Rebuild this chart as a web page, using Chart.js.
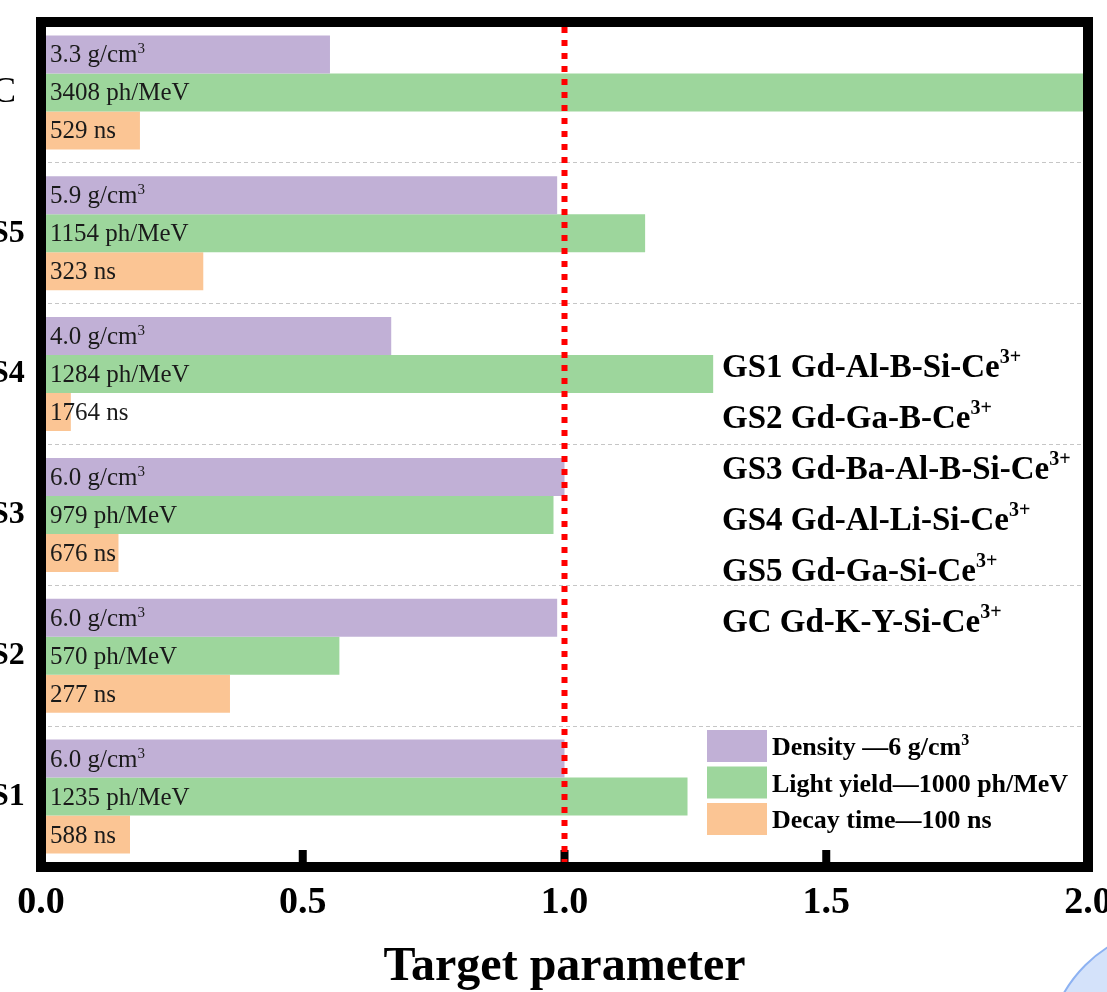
<!DOCTYPE html>
<html><head><meta charset="utf-8">
<script src="https://cdn.jsdelivr.net/npm/chart.js@4.4.1/dist/chart.umd.min.js"></script>
<style>html,body{margin:0;padding:0;background:#fff;overflow:hidden}#wrap{width:1107px;height:992px;position:relative}</style>
</head><body><div id="wrap"><canvas id="c" width="1107" height="992"></canvas></div>
<script>
// ---- data ----
const categories = ['GC', 'GS5', 'GS4', 'GS3', 'GS2', 'GS1'];
const densityRatio = [0.552, 0.986, 0.669, 1.0, 0.986, 1.0];      // density / 6 g/cm3
const lightRatio   = [3.408, 1.154, 1.284, 0.979, 0.570, 1.235];  // light yield / 1000 ph/MeV
const decayRatio   = [0.189, 0.310, 0.057, 0.148, 0.361, 0.170];  // 100 ns / decay time
const densityText = ['3.3 g/cm^{3}', '5.9 g/cm^{3}', '4.0 g/cm^{3}', '6.0 g/cm^{3}', '6.0 g/cm^{3}', '6.0 g/cm^{3}'];
const lightText   = ['3408 ph/MeV', '1154 ph/MeV', '1284 ph/MeV', '979 ph/MeV', '570 ph/MeV', '1235 ph/MeV'];
const decayText   = ['529 ns', '323 ns', '1764 ns', '676 ns', '277 ns', '588 ns'];
const seriesNames = ['Density \u20146 g/cm^{3}', 'Light yield\u20141000 ph/MeV', 'Decay time\u2014100 ns'];
const compounds = ['GS1 Gd-Al-B-Si-Ce^{3+}', 'GS2 Gd-Ga-B-Ce^{3+}', 'GS3 Gd-Ba-Al-B-Si-Ce^{3+}',
                   'GS4 Gd-Al-Li-Si-Ce^{3+}', 'GS5 Gd-Ga-Si-Ce^{3+}', 'GC Gd-K-Y-Si-Ce^{3+}'];
const xTickValues = [0, 0.5, 1.0, 1.5, 2.0];
const targetValue = 1.0;
const axisTitle = 'Target parameter';

const colors = ['#c1b0d6', '#9dd69c', '#fbc594'];
const FONT = 'Liberation Serif';

function parseRich(s) {
  const parts = []; const re = /\^\{([^}]*)\}/g; let last = 0, m;
  while ((m = re.exec(s))) {
    if (m.index > last) parts.push({ t: s.slice(last, m.index), sup: false });
    parts.push({ t: m[1], sup: true }); last = re.lastIndex;
  }
  if (last < s.length) parts.push({ t: s.slice(last), sup: false });
  return parts;
}
function drawRich(ctx, s, x, y, o) {
  ctx.textBaseline = 'alphabetic'; ctx.textAlign = 'left'; ctx.fillStyle = o.color || '#000';
  for (const p of parseRich(s)) {
    ctx.font = (o.weight || 'normal') + ' ' + (p.sup ? o.sup : o.size) + 'px "' + FONT + '"';
    ctx.fillText(p.t, x, p.sup ? y - o.raise : y);
    x += ctx.measureText(p.t).width;
  }
}

const decorPlugin = {
  id: 'decor',
  afterDatasetsDraw(chart) {
    const ctx = chart.ctx, a = chart.chartArea, xs = chart.scales.x;
    ctx.save();
    // value labels inside bars
    const texts = [densityText, lightText, decayText];
    chart.data.datasets.forEach((ds, di) => {
      const meta = chart.getDatasetMeta(di);
      meta.data.forEach((el, i) => {
        drawRich(ctx, texts[di][i], xs.getPixelForValue(0) + 9, el.y + 8,
          { size: 25, sup: 15, raise: 9, color: '#1a1a1a' });
      });
    });
    // frame
    ctx.strokeStyle = '#000'; ctx.lineWidth = 10; ctx.setLineDash([]);
    ctx.strokeRect(a.left, a.top, a.right - a.left, a.bottom - a.top);
    // inward tick marks
    ctx.fillStyle = '#000';
    xTickValues.slice(1, -1).forEach(v => {
      const px = xs.getPixelForValue(v);
      ctx.fillRect(px - 4, a.bottom - 17, 8, 13);
    });
    // target line
    const tx = xs.getPixelForValue(targetValue);
    ctx.strokeStyle = '#ff0000'; ctx.lineWidth = 6; ctx.setLineDash([6, 7]); ctx.lineCap = 'butt';
    ctx.beginPath(); ctx.moveTo(tx, a.top + 5); ctx.lineTo(tx, a.bottom - 5); ctx.stroke();
    ctx.setLineDash([]);
    // compound list
    compounds.forEach((c, i) => {
      drawRich(ctx, c, 722, 377 + i * 51, { size: 33, sup: 20, raise: 14, weight: 'bold' });
    });
    // legend
    chart.data.datasets.forEach((ds, i) => {
      const top = 730 + i * 36.5;
      ctx.fillStyle = ds.backgroundColor;
      ctx.fillRect(707, top, 60, 32);
      drawRich(ctx, seriesNames[i], 772, top + 16 + 9, { size: 26, sup: 16, raise: 10, weight: 'bold' });
    });
    ctx.restore();
  },
  afterDraw(chart) {
    const ctx = chart.ctx;
    ctx.save();
    ctx.beginPath(); ctx.arc(1180, 1060, 134, 0, Math.PI * 2);
    ctx.fillStyle = '#d4e2fa'; ctx.fill();
    ctx.strokeStyle = '#8db2f2'; ctx.lineWidth = 2; ctx.stroke();
    ctx.restore();
  }
};

new Chart(document.getElementById('c'), {
  type: 'bar',
  data: {
    labels: categories,
    datasets: [
      { label: seriesNames[0], data: densityRatio, backgroundColor: colors[0] },
      { label: seriesNames[1], data: lightRatio, backgroundColor: colors[1] },
      { label: seriesNames[2], data: decayRatio, backgroundColor: colors[2] }
    ]
  },
  options: {
    responsive: false, animation: false, indexAxis: 'y',
    devicePixelRatio: 1,
    datasets: { bar: { categoryPercentage: 0.81, barPercentage: 1.0, borderWidth: 0 } },
    layout: { padding: { left: -34, right: 19, top: 22, bottom: 0 } },
    plugins: { legend: { display: false }, tooltip: { enabled: false } },
    scales: {
      x: {
        type: 'linear', min: 0, max: 2, position: 'bottom',
        afterBuildTicks: s => { s.ticks = xTickValues.map(v => ({ value: v })); },
        afterFit: s => { s.height = 125; s.paddingLeft = 0; s.paddingRight = 0; },
        grid: { display: false, drawTicks: false }, border: { display: false },
        ticks: { padding: 17, color: '#000', autoSkip: false, maxRotation: 0,
          font: { family: FONT, size: 38, weight: 'bold', lineHeight: 1 },
          callback: v => Number(v).toFixed(1) },
        title: { display: true, text: axisTitle, color: '#000', padding: { top: 0, bottom: 0 },
          font: { family: FONT, size: 48, weight: 'bold', lineHeight: 1 } }
      },
      y: {
        type: 'category', position: 'left',
        afterFit: s => { s.width = 75; s.paddingTop = 0; s.paddingBottom = 0; },
        grid: { display: true, color: '#c6c6c6', lineWidth: 1, drawTicks: false, offset: true },
        border: { display: false, dash: [4, 3] },
        ticks: { crossAlign: 'far', padding: 0, color: '#000',
          font: c => c.index === 0 ? { family: FONT, size: 36, weight: 'normal' } : { family: FONT, size: 32, weight: 'bold' } }
      }
    }
  },
  plugins: [decorPlugin]
});
</script>
</body></html>
